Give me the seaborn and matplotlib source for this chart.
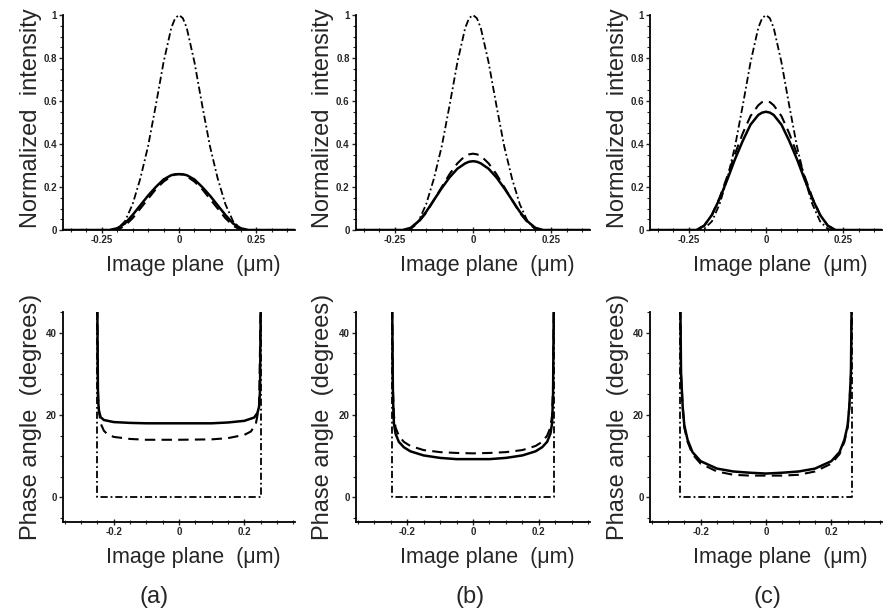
import matplotlib
matplotlib.use("Agg")
import matplotlib.pyplot as plt
from matplotlib.ticker import MultipleLocator, FuncFormatter
import seaborn as sns

# ---- intensity profiles (top row), image plane in um ----
int_x = [-0.375, -0.225, -0.2, -0.175, -0.15, -0.125, -0.1, -0.075, -0.05, -0.025, -0.0125, 0.0,
         0.0125, 0.025, 0.05, 0.075, 0.1, 0.125, 0.15, 0.175, 0.2, 0.225, 0.375]
ref_int = [0, 0, 0.005, 0.04, 0.12, 0.24, 0.39, 0.58, 0.78, 0.94, 0.985, 1.0,
           0.985, 0.94, 0.78, 0.58, 0.39, 0.24, 0.12, 0.04, 0.005, 0, 0]
a_int_solid = [0, 0, 0.008, 0.03, 0.07, 0.115, 0.16, 0.2, 0.235, 0.255, 0.259, 0.26,
               0.259, 0.255, 0.235, 0.2, 0.16, 0.115, 0.07, 0.03, 0.008, 0, 0]
a_int_dash = [0, 0, 0, 0.02, 0.055, 0.1, 0.145, 0.19, 0.225, 0.25, 0.258, 0.26,
              0.258, 0.25, 0.225, 0.19, 0.145, 0.1, 0.055, 0.02, 0, 0, 0]
b_int_solid = [0, 0, 0.01, 0.04, 0.085, 0.14, 0.195, 0.245, 0.285, 0.31, 0.3175, 0.32,
               0.3175, 0.31, 0.285, 0.245, 0.195, 0.14, 0.085, 0.04, 0.01, 0, 0]
b_int_dash = [0, 0, 0.005, 0.035, 0.08, 0.14, 0.2, 0.26, 0.31, 0.345, 0.352, 0.355,
              0.352, 0.345, 0.31, 0.26, 0.2, 0.14, 0.08, 0.035, 0.005, 0, 0]
c_int_solid = [0, 0, 0.02, 0.07, 0.145, 0.235, 0.33, 0.415, 0.49, 0.535, 0.546, 0.55,
               0.546, 0.535, 0.49, 0.415, 0.33, 0.235, 0.145, 0.07, 0.02, 0, 0]
c_int_dash = [0, 0, 0.02, 0.07, 0.15, 0.25, 0.355, 0.45, 0.53, 0.58, 0.595, 0.6,
              0.595, 0.58, 0.53, 0.45, 0.355, 0.25, 0.15, 0.07, 0.02, 0, 0]

# ---- phase profiles (bottom row), degrees ----
a_rect_x = [-0.25, -0.25, 0.25, 0.25]
rect_y = [46, 0, 0, 46]
a_ph_solid_x = [-0.25, -0.248, -0.245, -0.24, -0.23, -0.2, -0.15, -0.1, 0, 0.1, 0.15,
                0.2, 0.23, 0.24, 0.245, 0.248, 0.25]
a_ph_solid = [46, 24, 21, 19.5, 18.8, 18.3, 18.1, 18, 18, 18, 18.2,
              18.6, 19.4, 20.5, 22, 26, 46]
a_ph_dash_x = [-0.25, -0.248, -0.245, -0.24, -0.23, -0.22, -0.2, -0.15, -0.1, 0, 0.1,
               0.15, 0.2, 0.22, 0.235, 0.245, 0.25]
a_ph_dash = [46, 26, 21, 18, 16.2, 15.4, 14.7, 14.2, 14, 14, 14.1,
             14.4, 15.2, 16, 17.8, 22, 46]

b_rect_x = [-0.245, -0.245, 0.245, 0.245]
b_ph_x = [-0.245, -0.243, -0.24, -0.235, -0.225, -0.21, -0.19, -0.15, -0.1, -0.05, 0,
          0.05, 0.1, 0.15, 0.19, 0.21, 0.225, 0.235, 0.24, 0.243, 0.245]
b_ph_solid = [46, 25, 18, 15.5, 13.5, 12.2, 11.2, 10.2, 9.6, 9.3, 9.3,
              9.3, 9.6, 10.2, 11.2, 12.2, 13.5, 15.5, 18, 25, 46]
b_ph_dash = [46, 27, 20, 17, 15, 13.5, 12.5, 11.5, 11, 10.8, 10.7,
             10.8, 11, 11.5, 12.5, 13.5, 15, 17, 20, 27, 46]

c_rect_x = [-0.262, -0.262, 0.262, 0.262]
c_ph_x = [-0.262, -0.26, -0.255, -0.25, -0.24, -0.225, -0.2, -0.15, -0.1, -0.05, 0,
          0.05, 0.1, 0.15, 0.2, 0.225, 0.24, 0.25, 0.255, 0.26, 0.262]
c_ph_solid = [46, 30, 22, 17.5, 14, 11, 8.8, 7, 6.3, 6, 5.8,
              6, 6.3, 7, 8.8, 11, 14, 17.5, 22, 30, 46]
c_ph_dash = [46, 30, 22, 17, 13.5, 10.5, 8.2, 6.3, 5.5, 5.3, 5.3,
             5.3, 5.5, 6.3, 8.2, 10.5, 13.5, 17, 22, 30, 46]

panel_labels = ["(a)", "(b)", "(c)"]

sns.set_style("ticks")
plt.rcParams['font.family'] = ['Liberation Sans', 'DejaVu Sans']
plt.rcParams['axes.unicode_minus'] = False

DASHDOT = (0, (4, 1.6, 1, 1.6))
DASH = (0, (5, 3))

fig = plt.figure(figsize=(8.84, 6.15), dpi=100)

lefts = [0.0713, 0.4027, 0.7353]
widths = [0.2624, 0.2647, 0.2624]

top_data = [(a_int_solid, a_int_dash), (b_int_solid, b_int_dash), (c_int_solid, c_int_dash)]
bot_data = [
    (a_rect_x, a_ph_solid_x, a_ph_solid, a_ph_dash_x, a_ph_dash),
    (b_rect_x, b_ph_x, b_ph_solid, b_ph_x, b_ph_dash),
    (c_rect_x, c_ph_x, c_ph_solid, c_ph_x, c_ph_dash),
]

fmt = FuncFormatter(lambda v, p: "%g" % round(v, 3))


def style_axes(ax):
    sns.despine(ax=ax)
    for s in ("left", "bottom"):
        ax.spines[s].set_linewidth(1.3)
        ax.spines[s].set_color("black")
    ax.tick_params(axis="x", which="major", direction="inout", length=5, width=1,
                   labelsize=7, pad=1)
    ax.tick_params(axis="x", which="minor", direction="inout", length=3, width=0.8)
    ax.tick_params(axis="y", which="major", direction="out", length=3, width=1,
                   labelsize=7, pad=1.5)
    ax.tick_params(axis="y", which="minor", direction="out", length=2, width=0.8)
    for lab in ax.get_xticklabels() + ax.get_yticklabels():
        lab.set_fontweight("bold")
    ax.set_facecolor("white")


for i in range(3):
    # intensity panel
    ax = fig.add_axes([lefts[i], 0.626, widths[i], 0.3496])
    solid, dash = top_data[i]
    sns.lineplot(x=int_x, y=ref_int, ax=ax, color="black", lw=1.3, linestyle=DASHDOT,
                 sort=False, estimator=None)
    sns.lineplot(x=int_x, y=dash, ax=ax, color="black", lw=1.5, linestyle=DASH,
                 sort=False, estimator=None)
    sns.lineplot(x=int_x, y=solid, ax=ax, color="black", lw=1.8,
                 sort=False, estimator=None)
    ax.set_xlim(-0.375, 0.375)
    ax.set_ylim(0, 1.0)
    ax.xaxis.set_major_locator(MultipleLocator(0.25))
    ax.xaxis.set_minor_locator(MultipleLocator(0.05))
    ax.yaxis.set_major_locator(MultipleLocator(0.2))
    ax.yaxis.set_minor_locator(MultipleLocator(0.05))
    ax.xaxis.set_major_formatter(fmt)
    ax.yaxis.set_major_formatter(fmt)
    style_axes(ax)
    ax.set_xlabel("Image plane  (\u03bcm)", fontsize=15.5, va="center")
    ax.xaxis.set_label_coords(0.56, -0.165)
    ax.set_ylabel("Normalized  intensity", fontsize=17, va="center")
    ax.yaxis.set_label_coords(-0.14, 0.52)

    # phase panel
    ax = fig.add_axes([lefts[i], 0.151, widths[i], 0.3415])
    rect_x, sx, sy, dx, dy = bot_data[i]
    sns.lineplot(x=rect_x, y=rect_y, ax=ax, color="black", lw=1.3, linestyle=DASHDOT,
                 sort=False, estimator=None)
    sns.lineplot(x=dx, y=dy, ax=ax, color="black", lw=1.5, linestyle=DASH,
                 sort=False, estimator=None)
    sns.lineplot(x=sx, y=sy, ax=ax, color="black", lw=1.8,
                 sort=False, estimator=None)
    ax.set_xlim(-0.355, 0.355)
    ax.set_ylim(-6, 45)
    ax.xaxis.set_major_locator(MultipleLocator(0.2))
    ax.xaxis.set_minor_locator(MultipleLocator(0.05))
    ax.yaxis.set_major_locator(MultipleLocator(20))
    ax.yaxis.set_minor_locator(MultipleLocator(5))
    ax.xaxis.set_major_formatter(fmt)
    ax.yaxis.set_major_formatter(fmt)
    style_axes(ax)
    ax.set_xlabel("Image plane  (\u03bcm)", fontsize=15.5, va="center")
    ax.xaxis.set_label_coords(0.56, -0.167)
    ax.set_ylabel("Phase angle  (degrees)", fontsize=17, va="center")
    ax.yaxis.set_label_coords(-0.14, 0.5)

label_x = [154 / 884, 470 / 884, 767 / 884]
for i, lab in enumerate(panel_labels):
    fig.text(label_x[i], 1 - 597 / 615, lab, fontsize=17, ha="center", va="center")

fig.savefig("out.png", dpi=100, facecolor="white")
